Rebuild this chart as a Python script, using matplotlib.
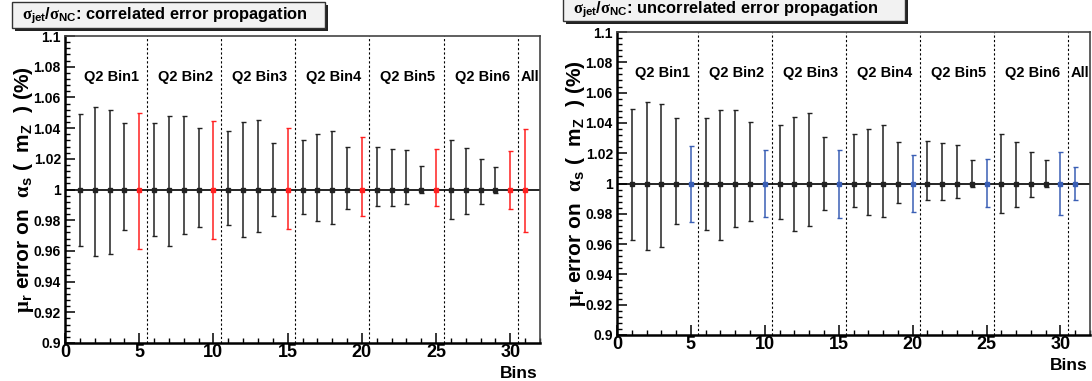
import matplotlib
matplotlib.use('Agg')
import matplotlib.pyplot as plt
from matplotlib.patches import Rectangle
from matplotlib.ticker import MultipleLocator, FixedLocator, FixedFormatter

plt.rcParams['font.family'] = ['Liberation Sans', 'DejaVu Sans']
plt.rcParams['font.weight'] = 'bold'
plt.rcParams['mathtext.fontset'] = 'custom'
plt.rcParams['mathtext.rm'] = 'Liberation Serif'
plt.rcParams['mathtext.bf'] = 'Liberation Sans:bold'
plt.rcParams['mathtext.it'] = 'Liberation Sans:italic'
plt.rcParams['mathtext.default'] = 'bf'

# ---------------- data ----------------
bins = list(range(1, 32))
central = [1.0] * 31

corr_up = [1.049, 1.054, 1.052, 1.043, 1.050, 1.0434, 1.048, 1.0478, 1.040, 1.0445,
           1.038, 1.0437, 1.0456, 1.0306, 1.040, 1.0323, 1.036, 1.038, 1.0274, 1.034,
           1.0274, 1.0267, 1.0256, 1.0152, 1.0267, 1.032, 1.027, 1.020, 1.0147, 1.0252,
           1.0395]
corr_dn = [0.963, 0.957, 0.958, 0.9735, 0.961, 0.970, 0.963, 0.9713, 0.9756, 0.9678,
           0.9767, 0.969, 0.972, 0.983, 0.974, 0.9843, 0.9795, 0.9776, 0.987, 0.9826,
           0.989, 0.989, 0.9904, 0.998, 0.989, 0.981, 0.9843, 0.9906, 0.9976, 0.987,
           0.9726]
unc_up = [1.0494, 1.054, 1.0525, 1.043, 1.025, 1.0435, 1.0488, 1.0484, 1.0407, 1.0218,
          1.0383, 1.044, 1.0464, 1.0306, 1.0224, 1.0328, 1.0363, 1.0383, 1.0277, 1.0185,
          1.028, 1.027, 1.0257, 1.0154, 1.016, 1.0326, 1.0273, 1.0205, 1.0152, 1.0209,
          1.0108]
unc_dn = [0.9627, 0.9563, 0.9578, 0.9734, 0.9748, 0.9695, 0.9627, 0.971, 0.9754, 0.978,
          0.9765, 0.9686, 0.9719, 0.9825, 0.9772, 0.9842, 0.9794, 0.9776, 0.987, 0.9815,
          0.9888, 0.9888, 0.9906, 0.9978, 0.9842, 0.9805, 0.9846, 0.9908, 0.9976, 0.9792,
          0.989]
highlight_bins = [5, 10, 15, 20, 25, 30, 31]

group_labels = ['Q2 Bin1', 'Q2 Bin2', 'Q2 Bin3', 'Q2 Bin4', 'Q2 Bin5', 'Q2 Bin6', 'All']
group_centers = [3.1, 8.1, 13.1, 18.1, 23.1, 28.1, 31.3]
separators = [5.5, 10.5, 15.5, 20.5, 25.5, 30.5]

y_ticks = [0.9, 0.92, 0.94, 0.96, 0.98, 1.0, 1.02, 1.04, 1.06, 1.08, 1.1]
y_ticklabels = ['0.9', '0.92', '0.94', '0.96', '0.98', '1', '1.02', '1.04', '1.06', '1.08', '1.1']
x_ticks = [0, 5, 10, 15, 20, 25, 30]
x_ticklabels = ['0', '5', '10', '15', '20', '25', '30']

titles = [r'$\mathrm{\sigma}_{jet}/\mathrm{\sigma}_{NC}$: correlated error propagation',
          r'$\mathrm{\sigma}_{jet}/\mathrm{\sigma}_{NC}$: uncorrelated error propagation']
ylabel = r'$\mathrm{\mu}_{r}$ error on  $\mathrm{\alpha}_{s}$ (  m$_{Z}$  ) (%)'

W, H = 1092, 381
fig = plt.figure(figsize=(W / 100, H / 100), dpi=100)


def draw_panel(rect, up, dn, hcolor, title, title_box, ylab_x):
    ax = fig.add_axes(rect)
    ax.set_xlim(0, 32)
    ax.set_ylim(0.9, 1.1)
    ax.axhline(1.0, color='black', lw=1.2, zorder=1)
    for s in separators:
        ax.axvline(s, color='black', lw=0.8, ls=(0, (2, 2)), zorder=1)
    for lab, c in zip(group_labels, group_centers):
        ax.text(c, 1.073, lab, ha='center', va='center', fontsize=10.5, fontweight='bold')
    for b, u, d, y in zip(bins, up, dn, central):
        col = hcolor if b in highlight_bins else '#222222'
        ax.errorbar([b], [y], yerr=[[y - d], [u - y]], fmt='s', ms=2.5, color=col,
                    mfc=col, mec=col, ecolor=col, elinewidth=1.1, capsize=1.8,
                    capthick=1.0, zorder=3)
    ax.yaxis.set_major_locator(FixedLocator(y_ticks))
    ax.yaxis.set_major_formatter(FixedFormatter(y_ticklabels))
    ax.yaxis.set_minor_locator(MultipleLocator(0.004))
    ax.xaxis.set_major_locator(FixedLocator(x_ticks))
    ax.xaxis.set_major_formatter(FixedFormatter(x_ticklabels))
    ax.xaxis.set_minor_locator(MultipleLocator(1))
    ax.tick_params(axis='y', which='major', direction='in', length=7, width=1.1,
                   labelsize=10, pad=3)
    ax.tick_params(axis='y', which='minor', direction='in', length=3.5, width=1.0)
    ax.tick_params(axis='x', which='major', direction='in', length=7, width=1.1,
                   labelsize=13, pad=1)
    ax.tick_params(axis='x', which='minor', direction='in', length=3.5, width=1.0)
    for lab in ax.get_xticklabels() + ax.get_yticklabels():
        lab.set_fontweight('bold')
    for side in ['left', 'bottom']:
        ax.spines[side].set_linewidth(1.8)
    for side in ['top', 'right']:
        ax.spines[side].set_linewidth(1.2)
        ax.spines[side].set_color('#444444')
    ax.text(0.995, -0.075, 'Bins', transform=ax.transAxes, ha='right', va='top',
            fontsize=12.5, fontweight='bold')
    fig.text(ylab_x / W, (rect[1] + rect[3] / 2), ylabel, rotation=90,
             ha='center', va='center', fontsize=15, fontweight='bold')
    # title box with shadow
    x0, y0, x1, y1 = title_box
    fig.patches.append(Rectangle((x0 / W + 3 / W, 1 - (y1 + 3) / H), (x1 - x0) / W,
                                 (y1 - y0) / H, transform=fig.transFigure,
                                 facecolor='#222222', edgecolor='none', zorder=5))
    fig.patches.append(Rectangle((x0 / W, 1 - y1 / H), (x1 - x0) / W, (y1 - y0) / H,
                                 transform=fig.transFigure, facecolor='#f2f2f2',
                                 edgecolor='#333333', lw=1.0, zorder=6))
    fig.text((x0 + 10) / W, 1 - ((y0 + y1) / 2 + 1) / H, title, ha='left', va='center',
             fontsize=11.8, fontweight='bold', zorder=7)
    return ax


draw_panel([65 / W, 1 - 343 / H, 475 / W, 307 / H], corr_up, corr_dn, '#ff2020',
           titles[0], (12, 2, 325, 28), 24)
draw_panel([617 / W, 1 - 335 / H, 473 / W, 303 / H], unc_up, unc_dn, '#3a5fb5',
           titles[1], (563, -4, 905, 21), 576)

fig.savefig('out.png', dpi=100)
